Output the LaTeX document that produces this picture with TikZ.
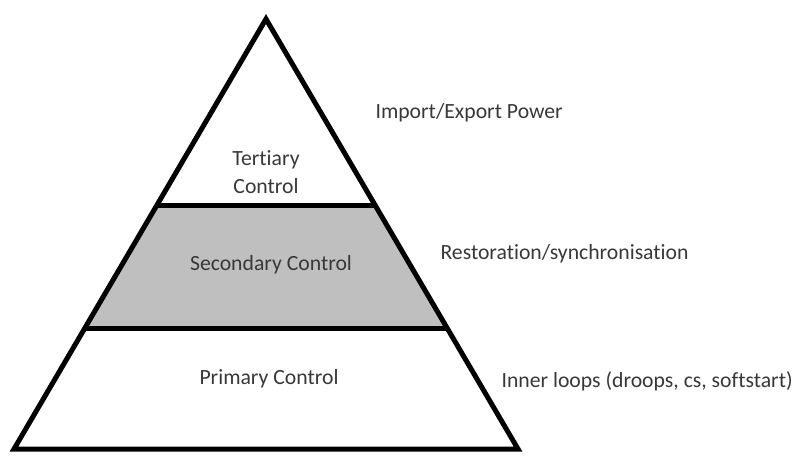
\documentclass[tikz,border=0pt]{standalone}
\usepackage{fontspec}
\setmainfont{Carlito}[Ligatures=NoCommon]
\usetikzlibrary{calc}

\begin{document}
\begin{tikzpicture}[x=1pt,y=-1pt,
  edge/.style={line width=5pt, line join=miter},
  level/.style={text=black!78, font=\fontsize{21.7}{28}\selectfont, align=center},
  note/.style={text=black!78, font=\fontsize{21.7}{26}\selectfont, anchor=west}]
\useasboundingbox (0,0) rectangle (795,456);

% Corners of the pyramid
\coordinate (top) at (266,19);
\coordinate (left) at (14,449);
\coordinate (right) at (518,449);

% Where the bands meet the sides
\coordinate (upl) at ($(top)!0.434!(left)$);
\coordinate (upr) at ($(top)!0.434!(right)$);
\coordinate (lowl) at ($(top)!0.72!(left)$);
\coordinate (lowr) at ($(top)!0.72!(right)$);

% Middle band
\fill[gray!50] (upl) -- (upr) -- (lowr) -- (lowl) -- cycle;

% Outline and dividers
\draw[edge] (top) -- (right) -- (left) -- cycle;
\draw[edge] (upl) -- (upr);
\draw[edge] (lowl) -- (lowr);

% Levels
\node[level] (tertiary) at (266,172) {Tertiary\\Control};
\node[level] (secondary) at (271,265) {Secondary Control};
\node[level] (primary) at (269,379) {Primary Control};

% Descriptions
\node[note] (power) at (372,113) {Import/Export Power};
\node[note] (sync) at (437,254) {Restoration/synchronisation};
\node[note] (loops) at (498,381) {Inner loops (droops, cs, softstart)};
\end{tikzpicture}
\end{document}
